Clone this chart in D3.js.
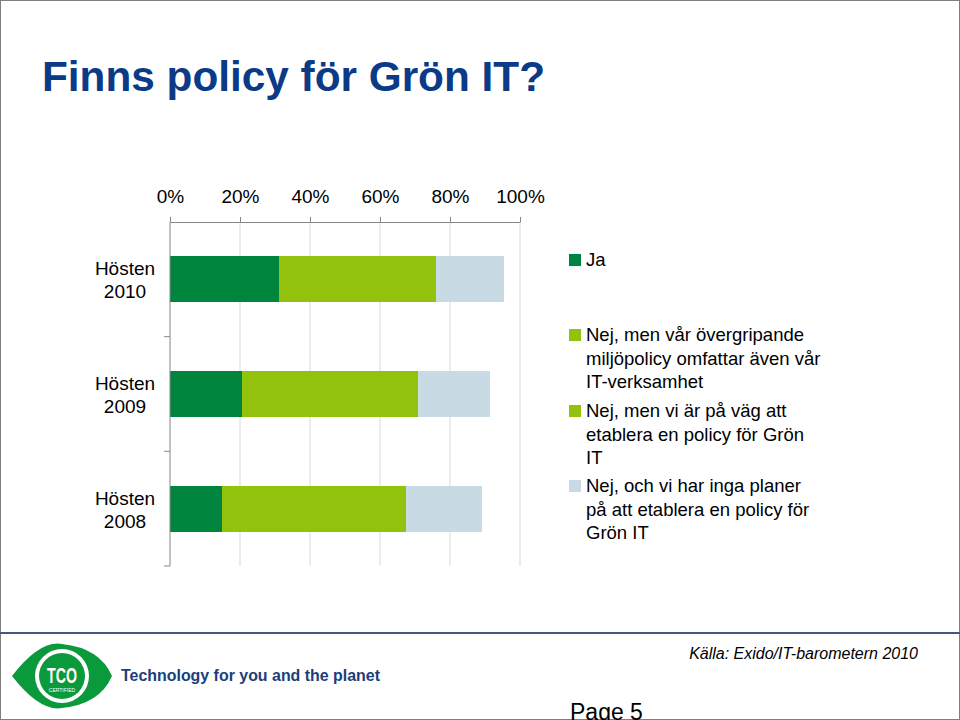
<!DOCTYPE html>
<html>
<head>
<meta charset="utf-8">
<script src="https://cdn.jsdelivr.net/npm/d3@7"></script>
<style>
  body { margin: 0; background: #fff; }
  svg { display: block; font-family: "Liberation Sans", Arial, sans-serif; }
</style>
</head>
<body>
<svg width="960" height="720"></svg>
<script>
// data (percent of respondents)
const categories = ["Hösten 2010", "Hösten 2009", "Hösten 2008"];
const seriesNames = [
  "Ja",
  "Nej, men vår övergripande miljöpolicy omfattar även vår IT-verksamhet",
  "Nej, men vi är på väg att etablera en policy för Grön IT",
  "Nej, och vi har inga planer på att etablera en policy för Grön IT"
];
const ja = [31, 20.6, 14.9];
const nejOvergripande = [33, 38, 40];
const nejPaVag = [12.1, 12.3, 12.4];
const nejInga = [19.3, 20.6, 21.8];
const tickValues = [0, 20, 40, 60, 80, 100];
const colors = ["#00853e", "#93c20d", "#93c20d", "#c8dbe5"];

// legend text split into lines as on the slide
const legendLines = [
  ["Ja"],
  ["Nej, men vår övergripande", "miljöpolicy omfattar även vår", "IT-verksamhet"],
  ["Nej, men vi är på väg att", "etablera en policy för Grön", "IT"],
  ["Nej, och vi har inga planer", "på att etablera en policy för", "Grön IT"]
];

const svg = d3.select("svg");

// slide frame
svg.append("rect")
  .attr("x", 0.5).attr("y", 0.5).attr("width", 959).attr("height", 719)
  .attr("fill", "none").attr("stroke", "#7f7f7f");

svg.append("text")
  .attr("x", 42).attr("y", 91)
  .attr("textLength", 503).attr("lengthAdjust", "spacingAndGlyphs")
  .style("font-size", "42px").style("font-weight", "bold")
  .style("fill", "#0b3a87")
  .text("Finns policy för Grön IT?");

const x = d3.scaleLinear().domain([0, 100]).range([170, 520]);
const y = d3.scaleBand().domain(categories).range([222, 566])
  .paddingInner(0.6).paddingOuter(0.3);

// gridlines
svg.append("g").selectAll("line")
  .data(tickValues.slice(1))
  .enter().append("line")
  .attr("x1", d => x(d)).attr("x2", d => x(d))
  .attr("y1", 222).attr("y2", 566)
  .attr("stroke", "#d9d9d9").attr("stroke-width", 1);

// stacked bars
const rows = categories.map((c, i) => ({
  cat: c, s0: ja[i], s1: nejOvergripande[i], s2: nejPaVag[i], s3: nejInga[i]
}));
const stack = d3.stack().keys(["s0", "s1", "s2", "s3"]);
const layers = stack(rows);

svg.append("g").selectAll("g")
  .data(layers)
  .enter().append("g")
  .attr("fill", (d, i) => colors[i])
  .attr("shape-rendering", "crispEdges")
  .selectAll("rect")
  .data(d => d)
  .enter().append("rect")
  .attr("x", d => Math.round(x(d[0])))
  .attr("width", d => Math.round(x(d[1])) - Math.round(x(d[0])))
  .attr("y", d => y(d.data.cat))
  .attr("height", y.bandwidth());

// top axis
const xAxis = svg.append("g")
  .attr("transform", "translate(0,222)")
  .call(d3.axisTop(x).tickValues(tickValues).tickSize(5).tickSizeOuter(0)
    .tickFormat(d => d + "%"));
xAxis.select(".domain").attr("stroke", "#868686");
xAxis.selectAll(".tick line").attr("stroke", "#868686");
xAxis.selectAll(".tick text")
  .attr("y", -19)
  .style("font-size", "19px").style("fill", "#000")
  .style("font-family", "Liberation Sans, Arial, sans-serif");

// left axis
const step = y.step();
const boundaries = [222, 222 + step, 222 + 2 * step, 566];
svg.append("line")
  .attr("x1", 170).attr("x2", 170).attr("y1", 222).attr("y2", 566)
  .attr("stroke", "#868686");
svg.append("g").selectAll("line")
  .data(boundaries.slice(1))
  .enter().append("line")
  .attr("x1", 164).attr("x2", 170)
  .attr("y1", d => d).attr("y2", d => d)
  .attr("stroke", "#868686");

const catLabels = svg.append("g").selectAll("text")
  .data(categories)
  .enter().append("text")
  .attr("text-anchor", "middle")
  .style("font-size", "19px").style("fill", "#000");
catLabels.append("tspan")
  .attr("x", 125).attr("y", d => y(d) + y.bandwidth() / 2 - 4)
  .text(d => d.split(" ")[0]);
catLabels.append("tspan")
  .attr("x", 125).attr("y", d => y(d) + y.bandwidth() / 2 + 19)
  .text(d => d.split(" ")[1]);

// legend
const legendTop = [266, 341, 417, 492];
const legend = svg.append("g").selectAll("g")
  .data(seriesNames)
  .enter().append("g");
legend.append("rect")
  .attr("x", 569).attr("y", (d, i) => legendTop[i] - 12)
  .attr("width", 12).attr("height", 12)
  .attr("fill", (d, i) => colors[i]);
legend.each(function (d, i) {
  d3.select(this).selectAll("text")
    .data(legendLines[i])
    .enter().append("text")
    .attr("x", 586)
    .attr("y", (l, j) => legendTop[i] + j * 23.5)
    .style("font-size", "18.5px").style("fill", "#000")
    .text(l => l);
});

// footer
svg.append("line")
  .attr("x1", 0).attr("x2", 960).attr("y1", 633).attr("y2", 633)
  .attr("stroke", "#44597c").attr("stroke-width", 2);

svg.append("text")
  .attr("x", 918).attr("y", 659).attr("text-anchor", "end")
  .style("font-size", "16px").style("font-style", "italic").style("fill", "#000")
  .text("Källa: Exido/IT-barometern 2010");

// TCO logo
const logo = svg.append("g");
logo.append("path")
  .attr("d", "M12,676 Q40,640 62,644 Q100,648 112,676 Q100,704 62,708 Q40,712 12,676 Z")
  .attr("fill", "#0a9a3c");
logo.append("circle").attr("cx", 62).attr("cy", 676).attr("r", 27).attr("fill", "#fff");
logo.append("circle").attr("cx", 62).attr("cy", 676).attr("r", 23).attr("fill", "#0a9a3c");
logo.append("text")
  .attr("x", 62).attr("y", 683).attr("text-anchor", "middle")
  .attr("textLength", 30).attr("lengthAdjust", "spacingAndGlyphs")
  .style("font-size", "22px").style("font-weight", "bold").style("fill", "#fff")
  .text("TCO");
logo.append("text")
  .attr("x", 62).attr("y", 692).attr("text-anchor", "middle")
  .style("font-size", "5px").style("fill", "#fff")
  .text("CERTIFIED");

svg.append("text")
  .attr("x", 121).attr("y", 681)
  .attr("textLength", 259).attr("lengthAdjust", "spacingAndGlyphs")
  .style("font-size", "17px").style("font-weight", "bold").style("fill", "#1d3e7a")
  .text("Technology for you and the planet");

svg.append("text")
  .attr("x", 570).attr("y", 720)
  .style("font-size", "23px").style("fill", "#000")
  .text("Page 5");
</script>
</body>
</html>
